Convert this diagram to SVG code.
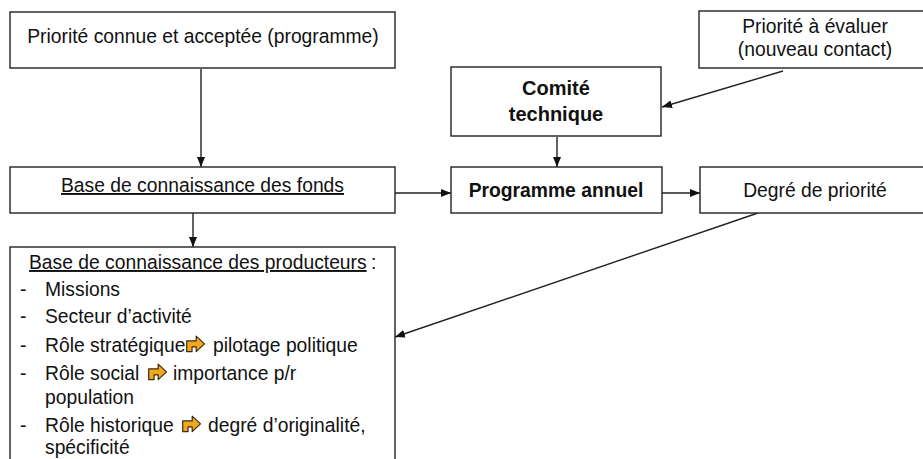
<svg xmlns="http://www.w3.org/2000/svg" xmlns:xlink="http://www.w3.org/1999/xlink" width="923" height="459" viewBox="0 0 923 459">
<defs>
<style>
.box{fill:#fff;stroke:#222;stroke-width:1.4}
.t{font-family:"Liberation Sans",Arial,sans-serif;font-size:19.3px;fill:#111}
.b{font-weight:bold}
.c{text-anchor:middle}
.u{text-decoration:underline}
.con{stroke:#222;stroke-width:1.4;fill:none;marker-end:url(#ah)}
.ico{fill:#f2a81e;stroke:#3a2a10;stroke-width:1;stroke-linejoin:round}
</style>
<marker id="ah" viewBox="0 0 10 8" refX="10" refY="4" markerWidth="10" markerHeight="8" markerUnits="userSpaceOnUse" orient="auto">
<path d="M0,0 L10,4 L0,8 Z" fill="#111"/>
</marker>
<symbol id="arr" viewBox="0 0 18 16">
<path class="ico" d="M2,5 L10,5 L10,1 L17,7.5 L10,14 L10,10 L6.5,10 L6.5,14 L2,14 Z"/>
</symbol>
</defs>
<rect width="923" height="459" fill="#fff"/>

<g id="connectors">
<line class="con" x1="201" y1="69" x2="201" y2="167"/>
<line class="con" x1="193" y1="213" x2="193" y2="247"/>
<line class="con" x1="395" y1="193" x2="451" y2="193"/>
<line class="con" x1="662" y1="193" x2="700" y2="193"/>
<line class="con" x1="557" y1="137" x2="557" y2="167"/>
<line class="con" x1="783" y1="71" x2="662" y2="107"/>
<line class="con" x1="758" y1="213" x2="395" y2="337"/>
</g>

<g id="n-priorite-connue">
<rect class="box" x="10" y="12" width="385" height="56"/>
<text class="t c" x="203" y="43">Priorité connue et acceptée (programme)</text>
</g>

<g id="n-priorite-evaluer">
<rect class="box" x="699" y="11" width="240" height="57"/>
<text class="t c" x="815" y="33">Priorité à évaluer</text>
<text class="t c" x="815" y="56">(nouveau contact)</text>
</g>

<g id="n-comite">
<rect class="box" x="451" y="67" width="210" height="69"/>
<text class="t b c" x="556" y="95" style="font-size:20px">Comité</text>
<text class="t b c" x="556" y="121" style="font-size:20px">technique</text>
</g>

<g id="n-base-fonds">
<rect class="box" x="10" y="167" width="385" height="46"/>
<text class="t u" x="61" y="192">Base de connaissance des fonds</text>
</g>

<g id="n-programme">
<rect class="box" x="451" y="167" width="211" height="46"/>
<text class="t b c" x="556" y="197">Programme annuel</text>
</g>

<g id="n-degre">
<rect class="box" x="700" y="167" width="240" height="46"/>
<text class="t c" x="815" y="197">Degré de priorité</text>
</g>

<g id="n-base-producteurs">
<rect class="box" x="10" y="247" width="385" height="240"/>
<text class="t u" x="29" y="269">Base de connaissance des producteurs</text>
<text class="t" x="371" y="269">:</text>
<text class="t" x="20" y="296">-</text>
<text class="t" x="45" y="296">Missions</text>
<text class="t" x="20" y="323">-</text>
<text class="t" x="45" y="323">Secteur d’activité</text>
<text class="t" x="20" y="352">-</text>
<text class="t" x="45" y="352">Rôle stratégique</text>
<use xlink:href="#arr" x="184" y="335" width="22" height="19"/>
<text class="t" x="213" y="352">pilotage politique</text>
<text class="t" x="20" y="380">-</text>
<text class="t" x="45" y="380">Rôle social</text>
<use xlink:href="#arr" x="146" y="363" width="22" height="19"/>
<text class="t" x="173" y="380">importance p/r</text>
<text class="t" x="45" y="404">population</text>
<text class="t" x="20" y="432">-</text>
<text class="t" x="45" y="432">Rôle historique</text>
<use xlink:href="#arr" x="180" y="415" width="22" height="19"/>
<text class="t" x="208" y="432">degré d’originalité,</text>
<text class="t" x="45" y="454">spécificité</text>
</g>
</svg>
